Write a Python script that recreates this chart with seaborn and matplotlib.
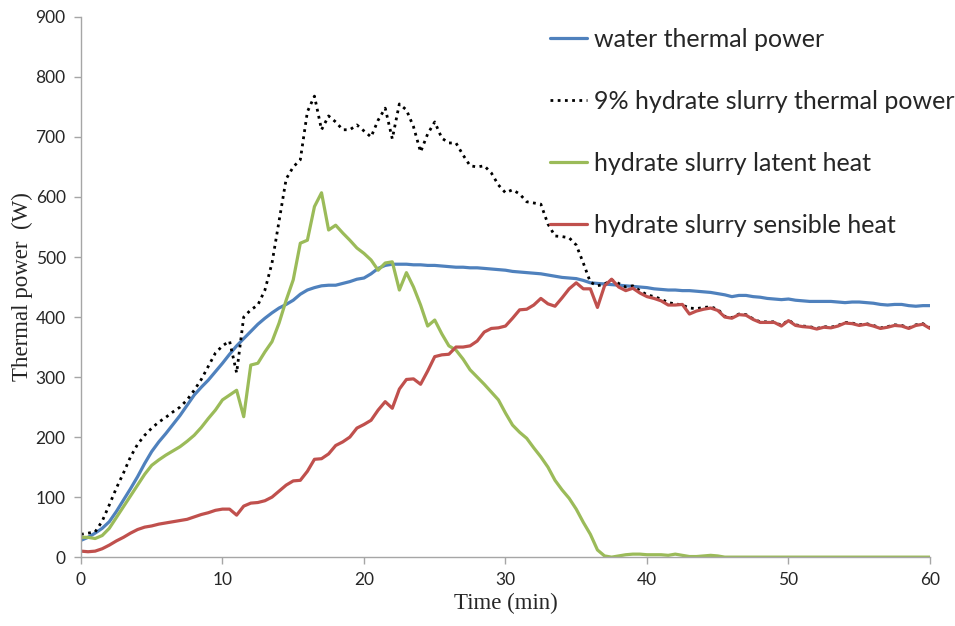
import numpy as np
import pandas as pd
import matplotlib
matplotlib.use("Agg")
import matplotlib.pyplot as plt
import seaborn as sns

# time axis in minutes (0.5 min sampling)
time_min = np.arange(0, 60.5, 0.5)

water_power = [
    28, 33, 40, 48, 59, 76, 95, 114, 134, 156, 176, 192, 206, 221, 236, 253, 270, 283, 295, 309,
    323, 338, 352, 364, 376, 388, 398, 407, 415, 421, 428, 438, 445, 449, 452, 453, 453, 456, 459, 463,
    465, 472, 481, 486, 488, 488, 488, 487, 487, 486, 486, 485, 484, 483, 483, 482, 482, 481, 480, 479,
    478, 476, 475, 474, 473, 472, 470, 468, 466, 465, 464, 461, 457, 456, 455, 454, 453, 452, 451, 450,
    449, 447, 446, 445, 445, 444, 444, 443, 442, 441, 439, 437, 434, 436, 436, 434, 433, 431, 430, 429,
    430, 428, 427, 426, 426, 426, 426, 425, 424, 425, 425, 424, 423, 421, 420, 421, 421, 419, 418, 419,
    419,
]

slurry_power = [
    38, 40, 42, 60, 87, 115, 140, 167, 188, 203, 215, 225, 233, 242, 250, 262, 278, 296, 318, 340,
    352, 360, 307, 400, 412, 420, 445, 490, 560, 630, 650, 662, 742, 768, 712, 735, 725, 712, 712, 720,
    710, 700, 728, 748, 697, 755, 745, 717, 675, 705, 725, 698, 690, 690, 670, 652, 650, 652, 640, 620,
    607, 612, 605, 592, 590, 588, 555, 535, 534, 532, 520, 490, 458, 452, 455, 462, 456, 450, 452, 444,
    437, 434, 430, 424, 422, 420, 415, 414, 416, 417, 413, 401, 399, 405, 404, 397, 392, 392, 392, 386,
    395, 387, 385, 384, 381, 384, 383, 386, 391, 390, 387, 389, 386, 382, 384, 387, 386, 382, 387, 389,
    382,
]

latent_heat = [
    33, 33, 31, 36, 48, 66, 84, 102, 120, 138, 153, 162, 170, 177, 184, 193, 203, 216, 231, 245,
    262, 270, 278, 234, 320, 323, 342, 359, 390, 428, 462, 523, 528, 584, 607, 545, 553, 540, 528, 515,
    506, 495, 478, 490, 492, 445, 474, 450, 420, 385, 395, 372, 352, 345, 330, 312, 300, 288, 275, 262,
    240, 220, 208, 198, 182, 167, 150, 128, 112, 98, 80, 58, 38, 12, 2, 0, 2, 4, 5, 5,
    4, 4, 4, 3, 5, 3, 1, 1, 2, 3, 2, 0, 0, 0, 0, 0, 0, 0, 0, 0,
    0, 0, 0, 0, 0, 0, 0, 0, 0, 0, 0, 0, 0, 0, 0, 0, 0, 0, 0, 0,
    0,
]

sensible_heat = [
    10, 9, 10, 14, 20, 27, 33, 40, 46, 50, 52, 55, 57, 59, 61, 63, 67, 71, 74, 78,
    80, 80, 70, 85, 90, 91, 94, 100, 110, 120, 127, 128, 143, 163, 164, 172, 186, 192, 200, 215,
    221, 228, 245, 259, 248, 280, 296, 297, 288, 310, 334, 337, 338, 350, 350, 352, 360, 375, 381, 382,
    385, 398, 412, 413, 420, 431, 422, 418, 432, 447, 457, 447, 447, 416, 452, 463, 450, 444, 448, 440,
    434, 431, 427, 420, 420, 421, 405, 410, 413, 415, 411, 400, 398, 404, 403, 396, 391, 391, 391, 385,
    394, 386, 384, 383, 380, 383, 382, 385, 390, 389, 386, 388, 385, 381, 383, 386, 385, 381, 386, 388,
    381,
]

labels = [
    "water thermal power",
    "9% hydrate slurry thermal power",
    "hydrate slurry latent heat",
    "hydrate slurry sensible heat",
]
colors = ["#4F81BD", "#000000", "#9BBB59", "#C0504D"]

df = pd.DataFrame({
    "time": time_min,
    labels[0]: water_power,
    labels[1]: slurry_power,
    labels[2]: latent_heat,
    labels[3]: sensible_heat,
})

sns.set_style("white")
fig = plt.figure(figsize=(9.55, 6.26), dpi=100)
ax = fig.add_axes([0.0848, 0.110, 0.8890, 0.863])

for name, col in zip(labels, colors):
    style = (0, (1, 1.6)) if col == "#000000" else "-"
    lw = 2.0 if col == "#000000" else 2.3
    sns.lineplot(data=df, x="time", y=name, color=col, linewidth=lw,
                 linestyle=style, label=name, ax=ax)

ax.set_xlim(0, 60)
ax.set_ylim(0, 900)
ax.set_xticks(range(0, 61, 10))
ax.set_yticks(range(0, 901, 100))

for lab in ax.get_xticklabels() + ax.get_yticklabels():
    lab.set_fontfamily("Lato")
    lab.set_fontsize(12.5)
ax.tick_params(axis="both", direction="out", length=5, width=1, color="#A6A6A6",
               bottom=True, left=True, pad=6)

for side in ["top", "right"]:
    ax.spines[side].set_visible(False)
for side in ["left", "bottom"]:
    ax.spines[side].set_color("#A6A6A6")
    ax.spines[side].set_linewidth(1)

ax.set_xlabel("Time (min)", fontfamily="Liberation Serif", fontsize=16.5, labelpad=3)
ax.set_ylabel("Thermal power  (W)", fontfamily="Liberation Serif", fontsize=16.5, labelpad=2)

leg = ax.legend(loc="upper right", bbox_to_anchor=(1.049, 1.012), frameon=False,
                prop={"family": "Lato", "size": 18}, handlelength=1.5,
                handletextpad=0.25, labelspacing=1.56, borderaxespad=0.3)

fig.savefig("out.png", dpi=100)
